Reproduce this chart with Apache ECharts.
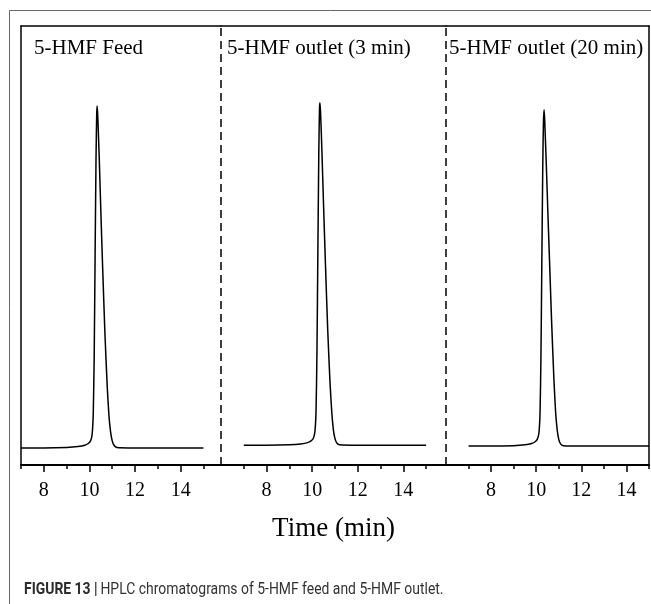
<!DOCTYPE html>
<html>
<head>
<meta charset="utf-8">
<script src="https://cdn.jsdelivr.net/npm/echarts@6/dist/echarts.min.js"></script>
<style>
  html, body { margin: 0; padding: 0; background: #fff; }
  #container { width: 651px; height: 604px; }
</style>
</head>
<body>
<div id="container"></div>
<script>
var dom = document.getElementById("container");
var myChart = echarts.init(dom);

// panel titles
var panelNames = ['5-HMF Feed', '5-HMF outlet (3 min)', '5-HMF outlet (20 min)'];

// tick labels (min)
var majorTicks = [8, 10, 12, 14];
var minorTicks = [7, 9, 11, 13, 15];

// retention time (min) and detector signal (relative)
var feedTime = [7, 8, 9, 9.5, 9.8, 9.95, 10.05, 10.12, 10.17, 10.21, 10.25, 10.29, 10.32, 10.34, 10.37, 10.43, 10.5, 10.58, 10.68, 10.78, 10.86, 10.93, 11.0, 11.08, 11.2, 12, 15];
var feedSignal = [3.9, 3.9, 4.0, 4.2, 4.5, 4.9, 5.5, 7, 12, 25, 48, 70, 80, 81.8, 79, 70, 58, 45, 30, 18, 11, 7.5, 5.5, 4.5, 4.0, 3.9, 3.9];

var out3Time = [7, 8, 9, 9.5, 9.8, 9.95, 10.05, 10.12, 10.17, 10.21, 10.25, 10.29, 10.32, 10.34, 10.37, 10.43, 10.5, 10.58, 10.68, 10.78, 10.86, 10.93, 11.0, 11.08, 11.2, 12, 15];
var out3Signal = [4.5, 4.5, 4.6, 4.8, 5.1, 5.5, 6.1, 7.6, 12.5, 26, 49, 71, 81, 82.5, 80, 71, 59, 46, 31, 19, 12, 8, 6, 5, 4.6, 4.5, 4.5];

var out20Time = [7, 8, 9, 9.5, 9.8, 9.95, 10.05, 10.12, 10.17, 10.21, 10.25, 10.29, 10.32, 10.35, 10.38, 10.45, 10.52, 10.6, 10.68, 10.78, 10.86, 10.93, 11.0, 11.08, 11.2, 12, 15];
var out20Signal = [4.3, 4.3, 4.4, 4.6, 4.9, 5.3, 5.9, 7.3, 12, 25, 47, 68, 78, 80.9, 78, 68, 57, 45, 33, 20, 12, 8, 5.8, 4.8, 4.4, 4.3, 4.3];

function pairs(t, s) {
    var res = [];
    for (var i = 0; i < t.length; i++) {
        res.push([t[i], s[i]]);
    }
    return res;
}

var serif = 'Liberation Serif';
var panels = [
    {left: 21, width: 200, min: 7, max: 15.77, data: pairs(feedTime, feedSignal)},
    {left: 221, width: 225, min: 6, max: 15.87, data: pairs(out3Time, out3Signal)},
    {left: 446, width: 203, min: 6, max: 15, data: pairs(out20Time, out20Signal)}
];

var grids = [], xAxes = [], yAxes = [], series = [], titles = [];
var titleLeft = [34, 227, 449];

panels.forEach(function (p, i) {
    grids.push({left: p.left, width: p.width, top: 26, height: 439});
    // main axis: line, long ticks, labels
    xAxes.push({
        type: 'value', gridIndex: i, min: p.min, max: p.max, position: 'bottom',
        axisLine: {show: true, onZero: false, lineStyle: {color: '#000', width: 2}},
        axisTick: {show: true, customValues: majorTicks, length: 7, lineStyle: {color: '#000', width: 1.5}},
        axisLabel: {show: true, customValues: majorTicks, margin: 16, color: '#000', fontFamily: serif, fontSize: 20},
        splitLine: {show: false},
        name: i === 1 ? 'Time (min)' : '',
        nameLocation: 'middle',
        nameGap: 50,
        nameTextStyle: {color: '#000', fontFamily: serif, fontSize: 27}
    });
    // short ticks at odd minutes
    xAxes.push({
        type: 'value', gridIndex: i, min: p.min, max: p.max, position: 'bottom',
        axisLine: {show: false},
        axisTick: {show: true, customValues: minorTicks, length: 4, lineStyle: {color: '#000', width: 1.5}},
        axisLabel: {show: false},
        splitLine: {show: false}
    });
    // top frame line
    xAxes.push({
        type: 'value', gridIndex: i, min: p.min, max: p.max, position: 'top',
        axisLine: {show: true, onZero: false, lineStyle: {color: '#000', width: 1.5}},
        axisTick: {show: false}, axisLabel: {show: false}, splitLine: {show: false}
    });
    yAxes.push({
        type: 'value', gridIndex: i, min: 0, max: 100,
        position: i === 2 ? 'right' : 'left',
        show: i !== 1,
        axisLine: {show: true, onZero: false, lineStyle: {color: '#000', width: 1.5}},
        axisTick: {show: false}, axisLabel: {show: false}, splitLine: {show: false}
    });
    var s = {
        type: 'line', xAxisIndex: i * 3, yAxisIndex: i,
        data: p.data, showSymbol: false, symbol: 'none', smooth: 0.2,
        clip: false,
        lineStyle: {color: '#000', width: 1.5}
    };
    if (i > 0) {
        s.markLine = {
            silent: true, symbol: 'none', label: {show: false},
            lineStyle: {color: '#000', width: 1.5, type: [8, 5]},
            data: [{xAxis: p.min}]
        };
    }
    series.push(s);
    titles.push({
        text: panelNames[i], left: titleLeft[i], top: 38, padding: 0,
        textStyle: {color: '#000', fontFamily: serif, fontSize: 21, fontWeight: 'normal'}
    });
});

var option = {
    backgroundColor: '#fff',
    animation: false,
    title: titles,
    grid: grids,
    xAxis: xAxes,
    yAxis: yAxes,
    series: series,
    graphic: [
        {
            type: 'rect', silent: true,
            shape: {x: 9.5, y: 10.5, width: 700, height: 700},
            style: {fill: 'none', stroke: '#666', lineWidth: 1}
        },
        {
            type: 'text', x: 24, y: 582, scaleX: 0.87,
            style: {
                text: '{b|FIGURE 13 |} {r|HPLC chromatograms of 5-HMF feed and 5-HMF outlet.}',
                rich: {
                    b: {fontFamily: 'Roboto, sans-serif', fontWeight: 'bold', fontSize: 16, fill: '#2b2b2b'},
                    r: {fontFamily: 'Roboto, sans-serif', fontSize: 16, fill: '#333'}
                }
            }
        }
    ]
};
myChart.setOption(option);
</script>
</body>
</html>
